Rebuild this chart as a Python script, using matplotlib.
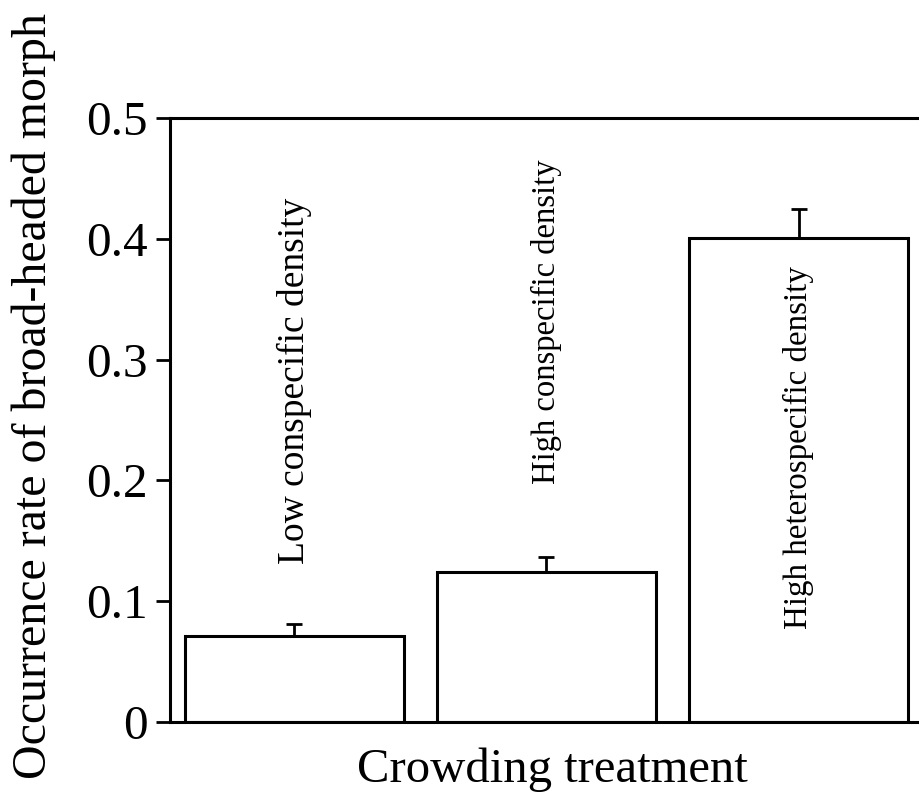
import matplotlib.pyplot as plt
import numpy as np

plt.rcParams['font.family'] = ['Liberation Serif', 'DejaVu Serif']

treatments = ['Low conspecific density', 'High conspecific density', 'High heterospecific density']
rates = [0.071, 0.124, 0.401]
errors = [0.010, 0.013, 0.024]
label_y = [0.282, 0.331, 0.227]
label_size = [27, 23.5, 23.8]

W, H = 919, 801
fig = plt.figure(figsize=(W / 100, H / 100), dpi=100)
ax = fig.add_axes([170 / W, 1 - 722 / H, 753 / W, 604 / H])

x = np.arange(len(treatments))
ax.bar(x, rates, width=0.87, color='white', edgecolor='black', linewidth=2.2)
ax.errorbar(x, rates, yerr=[np.zeros(3), errors], fmt='none', ecolor='black',
            elinewidth=2, capsize=6, capthick=2)

for i, t in enumerate(treatments):
    ax.text(x[i], label_y[i], t, rotation=90, ha='center', va='center',
            fontsize=label_size[i])

ax.set_xlim(-0.494, 2.494)
ax.set_ylim(0, 0.5)
ax.set_yticks([0, 0.1, 0.2, 0.3, 0.4, 0.5])
ax.set_yticklabels(['0', '0.1', '0.2', '0.3', '0.4', '0.5'])
ax.tick_params(axis='y', direction='out', length=10, width=2, labelsize=35.5, pad=6)
ax.tick_params(axis='x', length=0, labelbottom=False)
for s in ax.spines.values():
    s.set_linewidth(2.2)

fig.text(552 / W, 1 - 770 / H, 'Crowding treatment', ha='center', va='center', fontsize=35)
fig.text(34 / W, 1 - 396 / H, 'Occurrence rate of broad-headed morph', rotation=90,
         ha='center', va='center', fontsize=34.5)

fig.savefig('out.png', dpi=100)
